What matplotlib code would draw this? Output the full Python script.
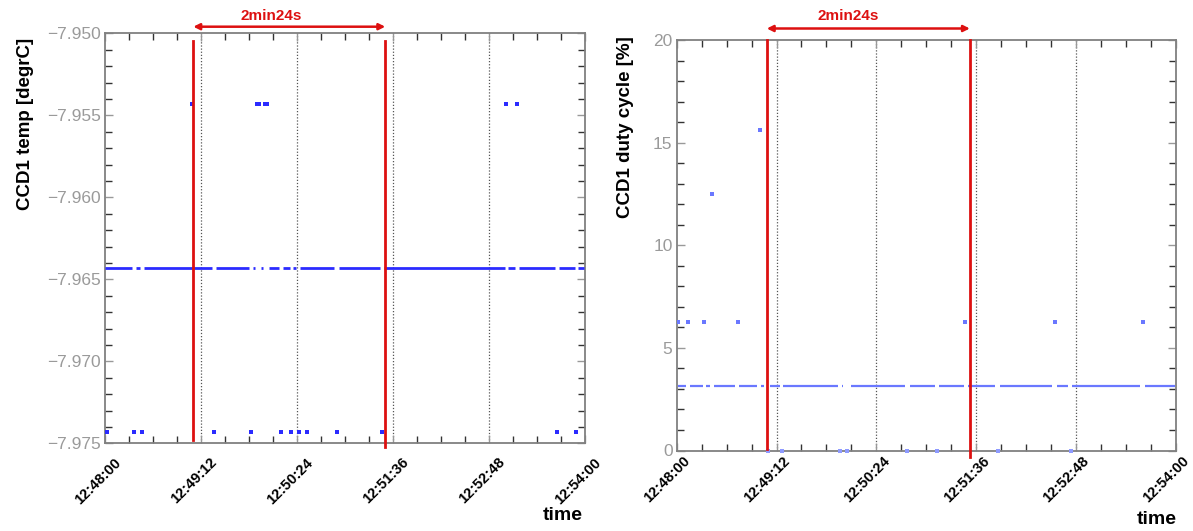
import matplotlib
matplotlib.use("Agg")
import matplotlib.pyplot as plt
from matplotlib.ticker import FixedLocator, MultipleLocator, FuncFormatter, NullFormatter

plt.rcParams['font.family'] = ['Liberation Sans', 'DejaVu Sans']

# ---------------- data (time in seconds after 12:48:00) ----------------
tick_labels = ["12:48:00", "12:49:12", "12:50:24", "12:51:36", "12:52:48", "12:54:00"]

# left panel: CCD1 temperature
temp_main = -7.9643
temp_main_segments = [(0.5, 20.5), (23.5, 26.5), (29.5, 80.5), (83.5, 108.5),
                      (111.5, 113.0), (117.5, 119.0), (123.5, 131.0), (133.5, 139.0),
                      (141.0, 143.5), (146.5, 172.0), (175.5, 206.5), (209.5, 300.0),
                      (302.5, 307.5), (310.5, 338.0), (341.0, 352.5), (355.0, 359.8)]
temp_high = -7.9543
temp_high_t = [65.6, 114.0, 116.0, 120.0, 122.0, 301.0, 309.5]
temp_low = -7.9743
temp_low_t = [2, 22, 28, 82, 110, 132, 140, 146, 152, 174, 208, 339.5, 353.5]

# right panel: CCD1 duty cycle
duty_main = 3.125
duty_main_segments = [(1.2, 6.7), (9.6, 18.7), (20.9, 24.0), (27.2, 42.0), (45.2, 58.2),
                      (61.0, 63.0), (67.3, 74.5), (76.9, 116.6), (119.3, 120.2),
                      (125.5, 165.0), (168.0, 186.4), (189.3, 207.5), (210.0, 229.7),
                      (233.3, 270.6), (274.2, 282.5), (285.0, 334.3), (337.9, 359.5)]
duty_pts_t = [0.6, 8.2, 20.0, 25.8, 44.0, 60.1, 208.0, 272.7, 336.6]
duty_pts_v = [6.25, 6.25, 6.25, 12.5, 6.25, 15.625, 6.25, 6.25, 6.25]
duty_zero_t = [66.0, 75.7, 117.8, 123.0, 166.4, 187.6, 232.0, 284.4]

# red markers (start / end of the 2min24s interval)
left_marks = [66.5, 210.5]
right_marks = [65.0, 211.5]
span_text = "2min24s"

# ---------------- figure ----------------
W, H = 1193, 531
fig = plt.figure(figsize=(W / 100, H / 100), dpi=100)

def px_axes(x0, y0, x1, y1):
    return fig.add_axes([x0 / W, 1 - y1 / H, (x1 - x0) / W, (y1 - y0) / H])

axL = px_axes(104.7, 33.3, 584.5, 443.3)
axR = px_axes(676.7, 40.0, 1175.7, 450.5)

def tsec(s):
    h, m, sec = [int(v) for v in s.split(":")]
    return (h * 3600 + m * 60 + sec) - (12 * 3600 + 48 * 60)

tick_pos = [tsec(s) for s in tick_labels]
RED = '#dd1010'

def style(ax, lab_dx, lab_dy):
    ax.set_xlim(tick_pos[0], tick_pos[-1])
    ax.xaxis.set_major_locator(FixedLocator(tick_pos))
    ax.xaxis.set_minor_locator(MultipleLocator(18))
    ax.xaxis.set_major_formatter(NullFormatter())
    for t, s in zip(tick_pos, tick_labels):
        ax.annotate(s, xy=(t, 0), xycoords=('data', 'axes fraction'),
                    xytext=(lab_dx * 0.72, -lab_dy * 0.72), textcoords='offset points',
                    rotation=45, ha='right', va='center', rotation_mode='anchor',
                    fontsize=10.5, fontweight='bold', color='black', annotation_clip=False)
    ax.tick_params(axis='both', which='both', direction='in', top=True, right=True)
    ax.tick_params(axis='both', which='major', length=6, width=1.0, color='#999999', pad=3)
    ax.tick_params(axis='both', which='minor', length=5, width=1.0, color='#333333')
    ax.tick_params(axis='y', labelsize=12.5, labelcolor='#9a9a9a')
    for sp in ax.spines.values():
        sp.set_color('#808080')
        sp.set_linewidth(1.3)
    for t in tick_pos[1:-1]:
        ax.axvline(t, color='#555555', lw=0.9, ls=(0, (1, 1.5)), zorder=1)

# ---- left panel ----
axL.set_ylim(-7.975, -7.950)
axL.yaxis.set_major_locator(MultipleLocator(0.005))
axL.yaxis.set_minor_locator(MultipleLocator(0.001))
axL.yaxis.set_major_formatter(FuncFormatter(lambda v, p: ("%.3f" % v).replace('-', '\u2212')))
style(axL, 14, 17)
blueL = '#2b2bff'
for a, b in temp_main_segments:
    axL.plot([a, b], [temp_main, temp_main], color=blueL, lw=2.0, solid_capstyle='butt', zorder=3)
axL.plot(temp_high_t, [temp_high] * len(temp_high_t), 's', color=blueL, ms=2.8, mew=0, zorder=3)
axL.plot(temp_low_t, [temp_low] * len(temp_low_t), 's', color=blueL, ms=2.8, mew=0, zorder=3)

# ---- right panel ----
axR.set_ylim(0, 20)
axR.yaxis.set_major_locator(MultipleLocator(5))
axR.yaxis.set_minor_locator(MultipleLocator(1))
axR.yaxis.set_major_formatter(FuncFormatter(lambda v, p: "%d" % v))
style(axR, 11, 8)
blueR = '#6a78ff'
for a, b in duty_main_segments:
    axR.plot([a, b], [duty_main, duty_main], color=blueR, lw=1.6, solid_capstyle='butt', zorder=3)
axR.plot(duty_pts_t, duty_pts_v, 's', color=blueR, ms=2.6, mew=0, zorder=3)
axR.plot(duty_zero_t, [0] * len(duty_zero_t), 's', color='#8e9aff', ms=2.4, mew=0,
         zorder=5, clip_on=False)

# ---- axis titles ----
fig.text(26 / W, 1 - 124 / H, "CCD1 temp [degrC]", rotation=90, ha='center', va='center',
         fontsize=13.5, fontweight='bold')
fig.text(625 / W, 1 - 127 / H, "CCD1 duty cycle [%]", rotation=90, ha='center', va='center',
         fontsize=13.5, fontweight='bold')
fig.text(583 / W, 1 - 515 / H, "time", ha='right', va='center', fontsize=14, fontweight='bold')
fig.text(1177 / W, 1 - 519 / H, "time", ha='right', va='center', fontsize=14, fontweight='bold')

# ---- red interval markers ----
def marks(ax, xs, y_top, y_bots, arrow_y_px, text_x):
    for x, yb in zip(xs, y_bots):
        ax.plot([x, x], [yb, y_top], color=RED, lw=2.0, clip_on=False, zorder=6)
    ax.annotate('', xy=(xs[1], H - arrow_y_px), xytext=(xs[0], H - arrow_y_px),
                xycoords=('data', 'figure pixels'), textcoords=('data', 'figure pixels'),
                arrowprops=dict(arrowstyle='<|-|>', color=RED, lw=1.8, mutation_scale=9,
                                shrinkA=0, shrinkB=0), annotation_clip=False)
    ax.annotate(span_text, xy=(text_x, H - 16), xycoords=('data', 'figure pixels'),
                ha='center', va='center', color=RED, fontsize=11, fontweight='bold',
                annotation_clip=False)

marks(axL, left_marks, -7.95045, [-7.97481, -7.97521], 26.7, 125)
marks(axR, right_marks, 20.0, [0.08, -0.33], 28.5, 124)

fig.savefig("out.png", dpi=100)
